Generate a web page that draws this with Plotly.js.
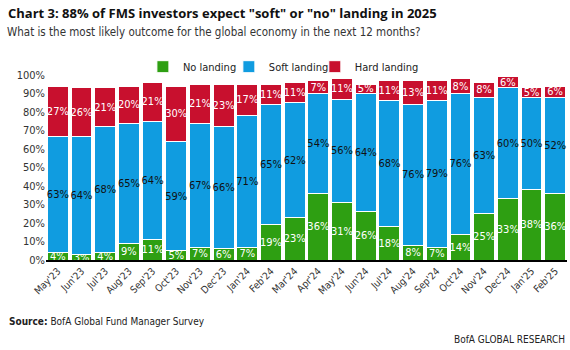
<!DOCTYPE html>
<html><head><meta charset="utf-8">
<script src="https://cdn.plot.ly/plotly-3.0.1.min.js"></script>
<style>html,body{margin:0;padding:0;background:#fff}#c{width:570px;height:350px}</style>
</head><body><div id="c"></div>
<script>
const months = ["May'23","Jun'23","Jul'23","Aug'23","Sep'23","Oct'23","Nov'23","Dec'23","Jan'24","Feb'24","Mar'24","Apr'24","May'24","Jun'24","Jul'24","Aug'24","Sep'24","Oct'24","Nov'24","Dec'24","Jan'25","Feb'25"];
const noLanding = [4,3,4,9,11,5,7,6,7,19,23,36,31,26,18,8,7,14,25,33,38,36];
const softLanding = [63,64,68,65,64,59,67,66,71,65,62,54,56,64,68,76,79,76,63,60,50,52];
const hardLanding = [27,26,21,20,21,30,21,23,17,11,11,7,11,5,11,13,11,8,8,6,5,6];
const yTicks = [0,10,20,30,40,50,60,70,80,90,100];

const FONT = "'Liberation Sans Narrow','DejaVu Sans Condensed','Open Sans',sans-serif";
function mk(name, vals, color, txtColor, lg){
  return {type:'bar', name:name, x:months, y:vals, legend:lg, marker:{color:color, line:{color:'#fff', width:1}},
    text: vals.map(v=>v+'%'), textposition:'inside', insidetextanchor:'middle', constraintext:'none',
    textangle:0, textfont:{family:FONT, size:11, color:txtColor}, hoverinfo:'none', cliponaxis:false};
}
const data = [
  mk('No landing', noLanding, '#2e9f12', '#ffffff', 'legend'),
  mk('Soft landing', softLanding, '#109ce0', '#111111', 'legend2'),
  mk('Hard landing', hardLanding, '#c8102e', '#ffffff', 'legend3')
];
function lg(x){
  return {orientation:'h', x:x, xanchor:'left', y:1.045, yanchor:'middle', font:{size:11, color:'#222', family:FONT}, itemwidth:30, bgcolor:'rgba(0,0,0,0)'};
}
const layout = {
  width:570, height:350, barmode:'stack', bargap:0.12,
  margin:{l:46, r:3, t:75, b:90},
  paper_bgcolor:'#fff', plot_bgcolor:'#fff',
  font:{family:FONT, color:'#333'},
  uniformtext:{minsize:11, mode:'show'},
  xaxis:{tickangle:-45, tickfont:{size:10, color:'#333', family:FONT}, showline:true, linecolor:'#000', linewidth:1.5, ticks:'', showgrid:false, automargin:false},
  yaxis:{range:[0,100], tickvals:yTicks, ticktext:yTicks.map(v=>v+'%'), tickfont:{size:11, color:'#333', family:FONT}, showgrid:false, zeroline:false, showline:false, ticks:'', automargin:false},
  legend:lg(0.186), legend2:lg(0.351), legend3:lg(0.516),
  showlegend:true,
  annotations:[
    {xref:'paper', yref:'paper', x:-0.077, y:1.335, xanchor:'left', yanchor:'middle', showarrow:false, text:'<b>Chart 3: 88% of FMS investors expect "soft" or "no" landing in 2025</b>', font:{family:"'Open Sans','DejaVu Sans',sans-serif", size:13, color:'#111'}},
    {xref:'paper', yref:'paper', x:-0.079, y:1.23, xanchor:'left', yanchor:'middle', showarrow:false, text:'What is the most likely outcome for the global economy in the next 12 months?', font:{family:FONT, size:11.5, color:'#333'}},
    {xref:'paper', yref:'paper', x:-0.075, y:-0.335, xanchor:'left', yanchor:'middle', showarrow:false, text:'<b>Source:</b> BofA Global Fund Manager Survey', font:{family:FONT, size:10, color:'#222'}},
    {xref:'paper', yref:'paper', x:1.0, y:-0.43, xanchor:'right', yanchor:'middle', showarrow:false, text:'BofA GLOBAL RESEARCH', font:{family:FONT, size:10, color:'#222'}}
  ]
};
Plotly.newPlot('c', data, layout, {displayModeBar:false, staticPlot:true});
</script></body></html>
